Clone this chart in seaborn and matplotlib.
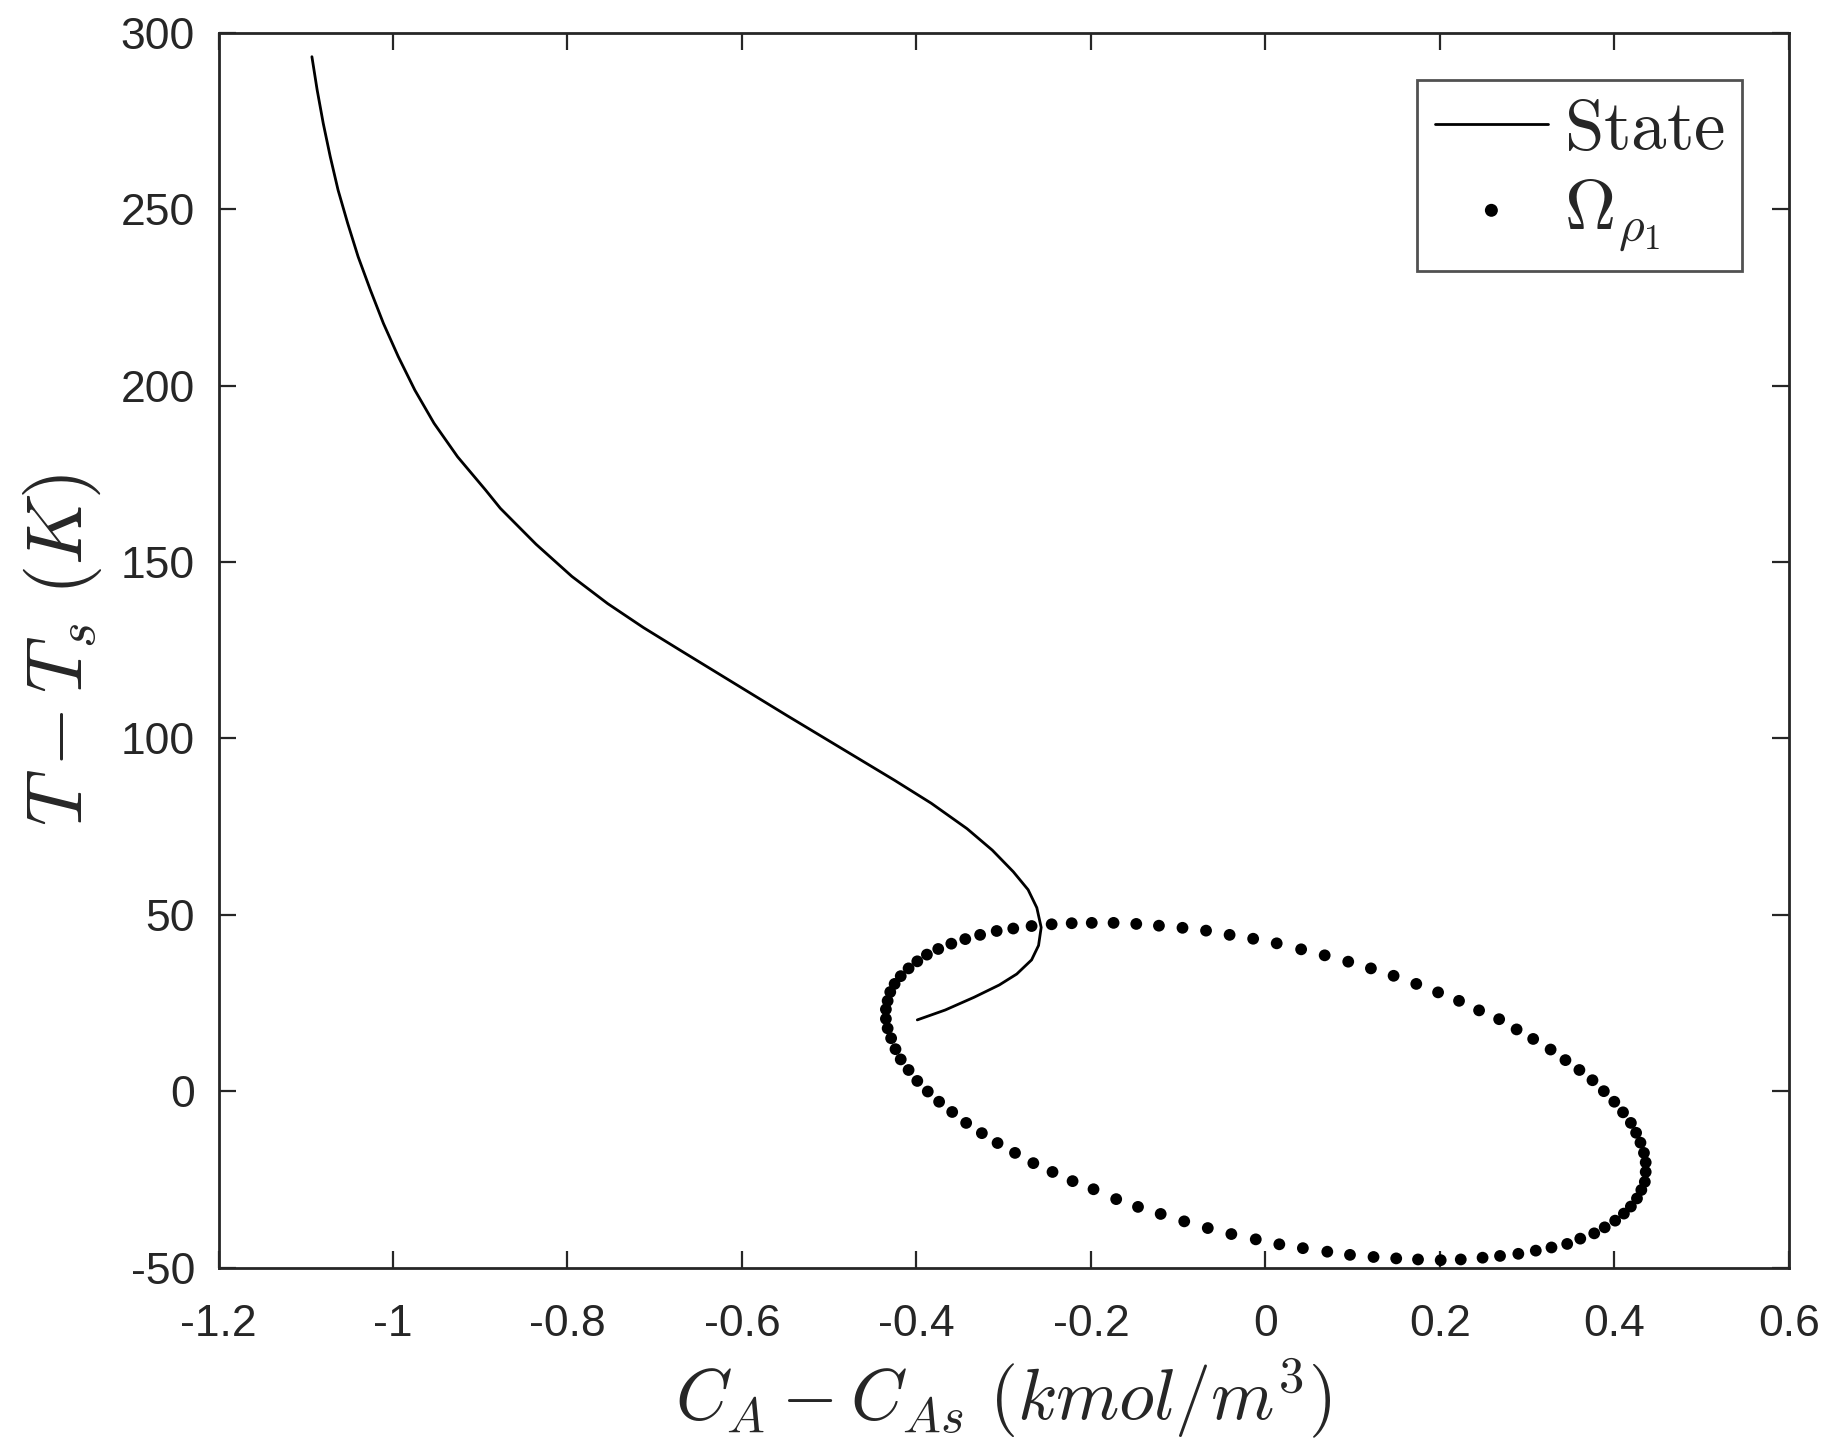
import numpy as np
import pandas as pd
import seaborn as sns
import matplotlib
matplotlib.use("Agg")
import matplotlib.pyplot as plt

# State trajectory (C_A - C_As, T - T_s)
state_x = [-1.093, -1.087, -1.080, -1.072, -1.063, -1.052, -1.040, -1.026, -1.011,
           -0.994, -0.975, -0.953, -0.926, -0.894, -0.877, -0.836, -0.795, -0.754,
           -0.713, -0.671, -0.630, -0.589, -0.548, -0.507, -0.466, -0.425, -0.383,
           -0.342, -0.313, -0.289, -0.272, -0.262, -0.257, -0.260, -0.268, -0.285,
           -0.305, -0.334, -0.367, -0.399]
state_y = [293.2, 283.8, 274.3, 264.9, 255.4, 246.0, 236.5, 227.1, 217.6,
           208.2, 198.7, 189.3, 179.8, 170.4, 165.2, 155.0, 145.9, 138.2,
           131.4, 125.0, 118.8, 112.6, 106.4, 100.3, 94.2, 88.1, 81.6,
           74.4, 68.3, 62.2, 57.1, 52.0, 46.4, 41.3, 37.2, 33.2,
           30.1, 26.6, 23.0, 20.2]

# Omega_rho1 boundary points
omega_x = [-0.199, -0.174, -0.148, -0.122, -0.095, -0.068, -0.041, -0.014, 0.013, 0.041,
           0.068, 0.095, 0.121, 0.147, 0.173, 0.198, 0.222, 0.245, 0.268, 0.288,
           0.307, 0.327, 0.344, 0.360, 0.375, 0.388, 0.400, 0.410, 0.419, 0.425,
           0.430, 0.434, 0.436, 0.436, 0.435, 0.431, 0.426, 0.419, 0.411, 0.401,
           0.389, 0.377, 0.361, 0.346, 0.328, 0.310, 0.290, 0.269, 0.249, 0.224,
           0.201, 0.175, 0.150, 0.124, 0.097, 0.071, 0.043, 0.016, -0.011, -0.039,
           -0.066, -0.093, -0.120, -0.146, -0.171, -0.197, -0.221, -0.244, -0.266, -0.287,
           -0.307, -0.325, -0.343, -0.359, -0.374, -0.387, -0.399, -0.409, -0.418, -0.424,
           -0.429, -0.433, -0.435, -0.435, -0.433, -0.430, -0.425, -0.418, -0.409, -0.399,
           -0.388, -0.375, -0.360, -0.344, -0.327, -0.308, -0.289, -0.268, -0.245, -0.222]
omega_y = [47.7, 47.7, 47.4, 46.9, 46.3, 45.5, 44.3, 43.2, 41.9, 40.2,
           38.5, 36.7, 34.8, 32.7, 30.4, 28.0, 25.6, 22.9, 20.4, 17.5,
           14.8, 11.8, 8.8, 6.0, 3.1, 0.0, -3.0, -6.0, -9.0, -11.8,
           -14.6, -17.5, -20.2, -22.9, -25.7, -28.0, -30.4, -32.7, -34.7, -36.7,
           -38.6, -40.3, -41.8, -43.3, -44.3, -45.2, -46.1, -46.7, -47.2, -47.7,
           -47.9, -47.7, -47.4, -47.0, -46.4, -45.5, -44.5, -43.4, -42.0, -40.5,
           -38.8, -36.9, -34.8, -32.8, -30.6, -27.8, -25.5, -22.9, -20.4, -17.5,
           -14.7, -11.9, -9.0, -5.9, -3.0, -0.1, 2.9, 6.0, 9.0, 11.9,
           15.0, 17.8, 20.5, 23.2, 25.6, 28.1, 30.4, 32.6, 34.8, 36.8,
           38.7, 40.3, 41.8, 43.1, 44.3, 45.4, 46.1, 46.8, 47.3, 47.6]

x_ticks = [-1.2, -1, -0.8, -0.6, -0.4, -0.2, 0, 0.2, 0.4, 0.6]
x_ticklabels = ["-1.2", "-1", "-0.8", "-0.6", "-0.4", "-0.2", "0", "0.2", "0.4", "0.6"]
y_ticks = [-50, 0, 50, 100, 150, 200, 250, 300]
y_ticklabels = ["-50", "0", "50", "100", "150", "200", "250", "300"]

sns.set_style("ticks")
plt.rcParams['font.family'] = ['Liberation Sans', 'DejaVu Sans']
plt.rcParams['mathtext.fontset'] = 'cm'

fig = plt.figure(figsize=(18.29, 14.47), dpi=100)
ax = fig.add_axes([0.1195, 0.124, 0.9780 - 0.1195, 0.9774 - 0.124])

state_df = pd.DataFrame({"x": state_x, "y": state_y})
omega_df = pd.DataFrame({"x": omega_x, "y": omega_y})

sns.lineplot(data=state_df, x="x", y="y", sort=False, estimator=None, color="black",
             linewidth=2.0, ax=ax, label=r"$\mathrm{State}$")
sns.scatterplot(data=omega_df, x="x", y="y", color="black", s=72, edgecolor="none",
                ax=ax, label=r"$\Omega_{\rho_1}$")

ax.set_xlim(-1.2, 0.6)
ax.set_ylim(-50, 300)
ax.set_xticks(x_ticks)
ax.set_xticklabels(x_ticklabels)
ax.set_yticks(y_ticks)
ax.set_yticklabels(y_ticklabels)

axc = "#262626"
for sp in ax.spines.values():
    sp.set_visible(True)
    sp.set_linewidth(2.0)
    sp.set_color(axc)
ax.tick_params(axis="both", which="both", direction="in", length=12.5, width=1.6,
               colors=axc, labelsize=32, top=True, right=True)
ax.tick_params(axis="x", pad=26)
ax.tick_params(axis="y", pad=17)

ax.set_xlabel(r"$C_A - C_{As}\ (kmol/m^3)$", fontsize=52, color=axc)
ax.set_ylabel(r"$T - T_s\ (K)$", fontsize=56, color=axc)
ax.xaxis.set_label_coords(0.5, -0.072)
ax.yaxis.set_label_coords(-0.073, 0.5)

leg = ax.legend(loc="upper right", bbox_to_anchor=(0.9705, 0.9617), fontsize=51,
                frameon=True, fancybox=False, edgecolor=axc, handlelength=1.6,
                handletextpad=0.22, borderpad=0.25, labelspacing=0.2,
                markerscale=1.1, borderaxespad=0.0)
leg.get_frame().set_linewidth(2.0)

fig.savefig("out.png", dpi=100, facecolor="white")
